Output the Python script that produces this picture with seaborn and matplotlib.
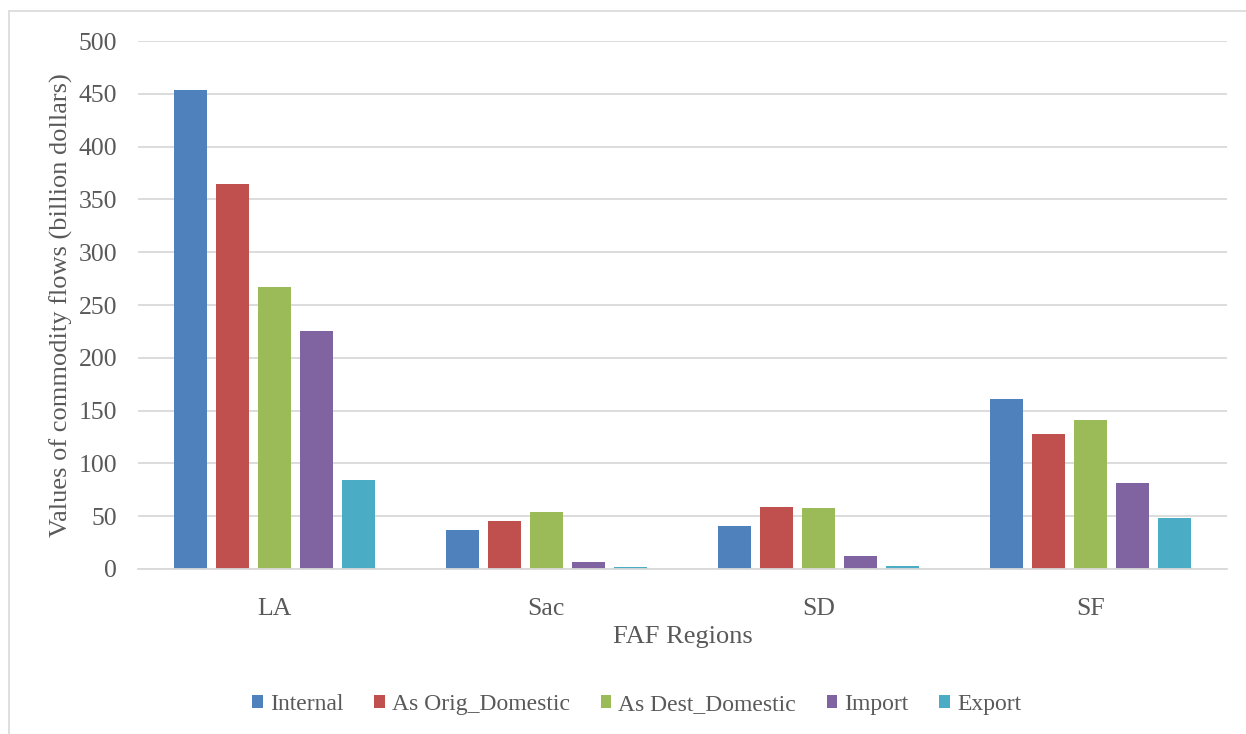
import matplotlib
matplotlib.use("Agg")
import matplotlib.pyplot as plt
from matplotlib.lines import Line2D
from matplotlib.patches import Patch
import seaborn as sns
import pandas as pd

# Commodity flow values by FAF region (billion dollars)
regions = ["LA", "Sac", "SD", "SF"]
flow_types = ["Internal", "As Orig_Domestic", "As Dest_Domestic", "Import", "Export"]
internal = [454, 37, 41, 161]
orig_domestic = [365, 45.5, 58.7, 128]
dest_domestic = [267, 53.7, 57.8, 141]
imports = [225, 6.6, 12.3, 81]
exports = [84.3, 1.9, 3.1, 48.3]
y_ticks = [0, 50, 100, 150, 200, 250, 300, 350, 400, 450, 500]

colors = ["#4F81BD", "#C0504D", "#9BBB59", "#8064A2", "#4BACC6"]

series = [internal, orig_domestic, dest_domestic, imports, exports]
rows = []
for name, vals in zip(flow_types, series):
    for reg, v in zip(regions, vals):
        rows.append({"Region": reg, "Flow": name, "Value": v})
df = pd.DataFrame(rows)

sns.set_theme(style="white")
plt.rcParams["font.family"] = ["Liberation Serif", "DejaVu Serif"]

text_color = "#595959"
grid_color = "#D9D9D9"

fig = plt.figure(figsize=(12.46, 7.34), dpi=100)
ax = fig.add_axes([0.1108, 0.2248, 0.8740, 0.7193])

sns.barplot(data=df, x="Region", y="Value", hue="Flow", order=regions,
            hue_order=flow_types, palette=colors, saturation=1,
            width=0.771, gap=0.214, linewidth=0, legend=False, ax=ax,
            errorbar=None)

ax.set_ylim(0, 500)
ax.set_xlim(-0.5, len(regions) - 0.5)
ax.set_yticks(y_ticks)
ax.set_yticklabels([str(t) for t in y_ticks])
ax.yaxis.grid(True, color=grid_color, linewidth=1.3)
ax.set_axisbelow(True)
for side in ["left", "right", "top"]:
    ax.spines[side].set_visible(False)
ax.spines["bottom"].set_color(grid_color)
ax.spines["bottom"].set_linewidth(1.3)
ax.tick_params(axis="both", length=0, labelsize=18.5, labelcolor=text_color)
ax.tick_params(axis="y", pad=15)
ax.tick_params(axis="x", pad=21)

ax.set_ylabel("Values of commodity flows (billion dollars)", fontsize=19,
              color=text_color, labelpad=4)
ax.set_xlabel("FAF Regions", fontsize=19, color=text_color, labelpad=4)

handles = [Patch(facecolor=c, edgecolor="none") for c in colors]
fig.legend(handles, flow_types, loc="center", bbox_to_anchor=(0.511, 0.040),
           ncol=5, frameon=False, fontsize=17, handlelength=0.45,
           handleheight=0.45, handletextpad=0.3, columnspacing=1.3,
           labelcolor=text_color)

# Thin frame around the chart area
fig.add_artist(Line2D([9 / 1246, 9 / 1246], [0, 1 - 11 / 734],
                      transform=fig.transFigure, color=grid_color, linewidth=1.2))
fig.add_artist(Line2D([9 / 1246, 1], [1 - 11 / 734, 1 - 11 / 734],
                      transform=fig.transFigure, color=grid_color, linewidth=1.2))

fig.savefig("out.png", dpi=100, facecolor="white")
